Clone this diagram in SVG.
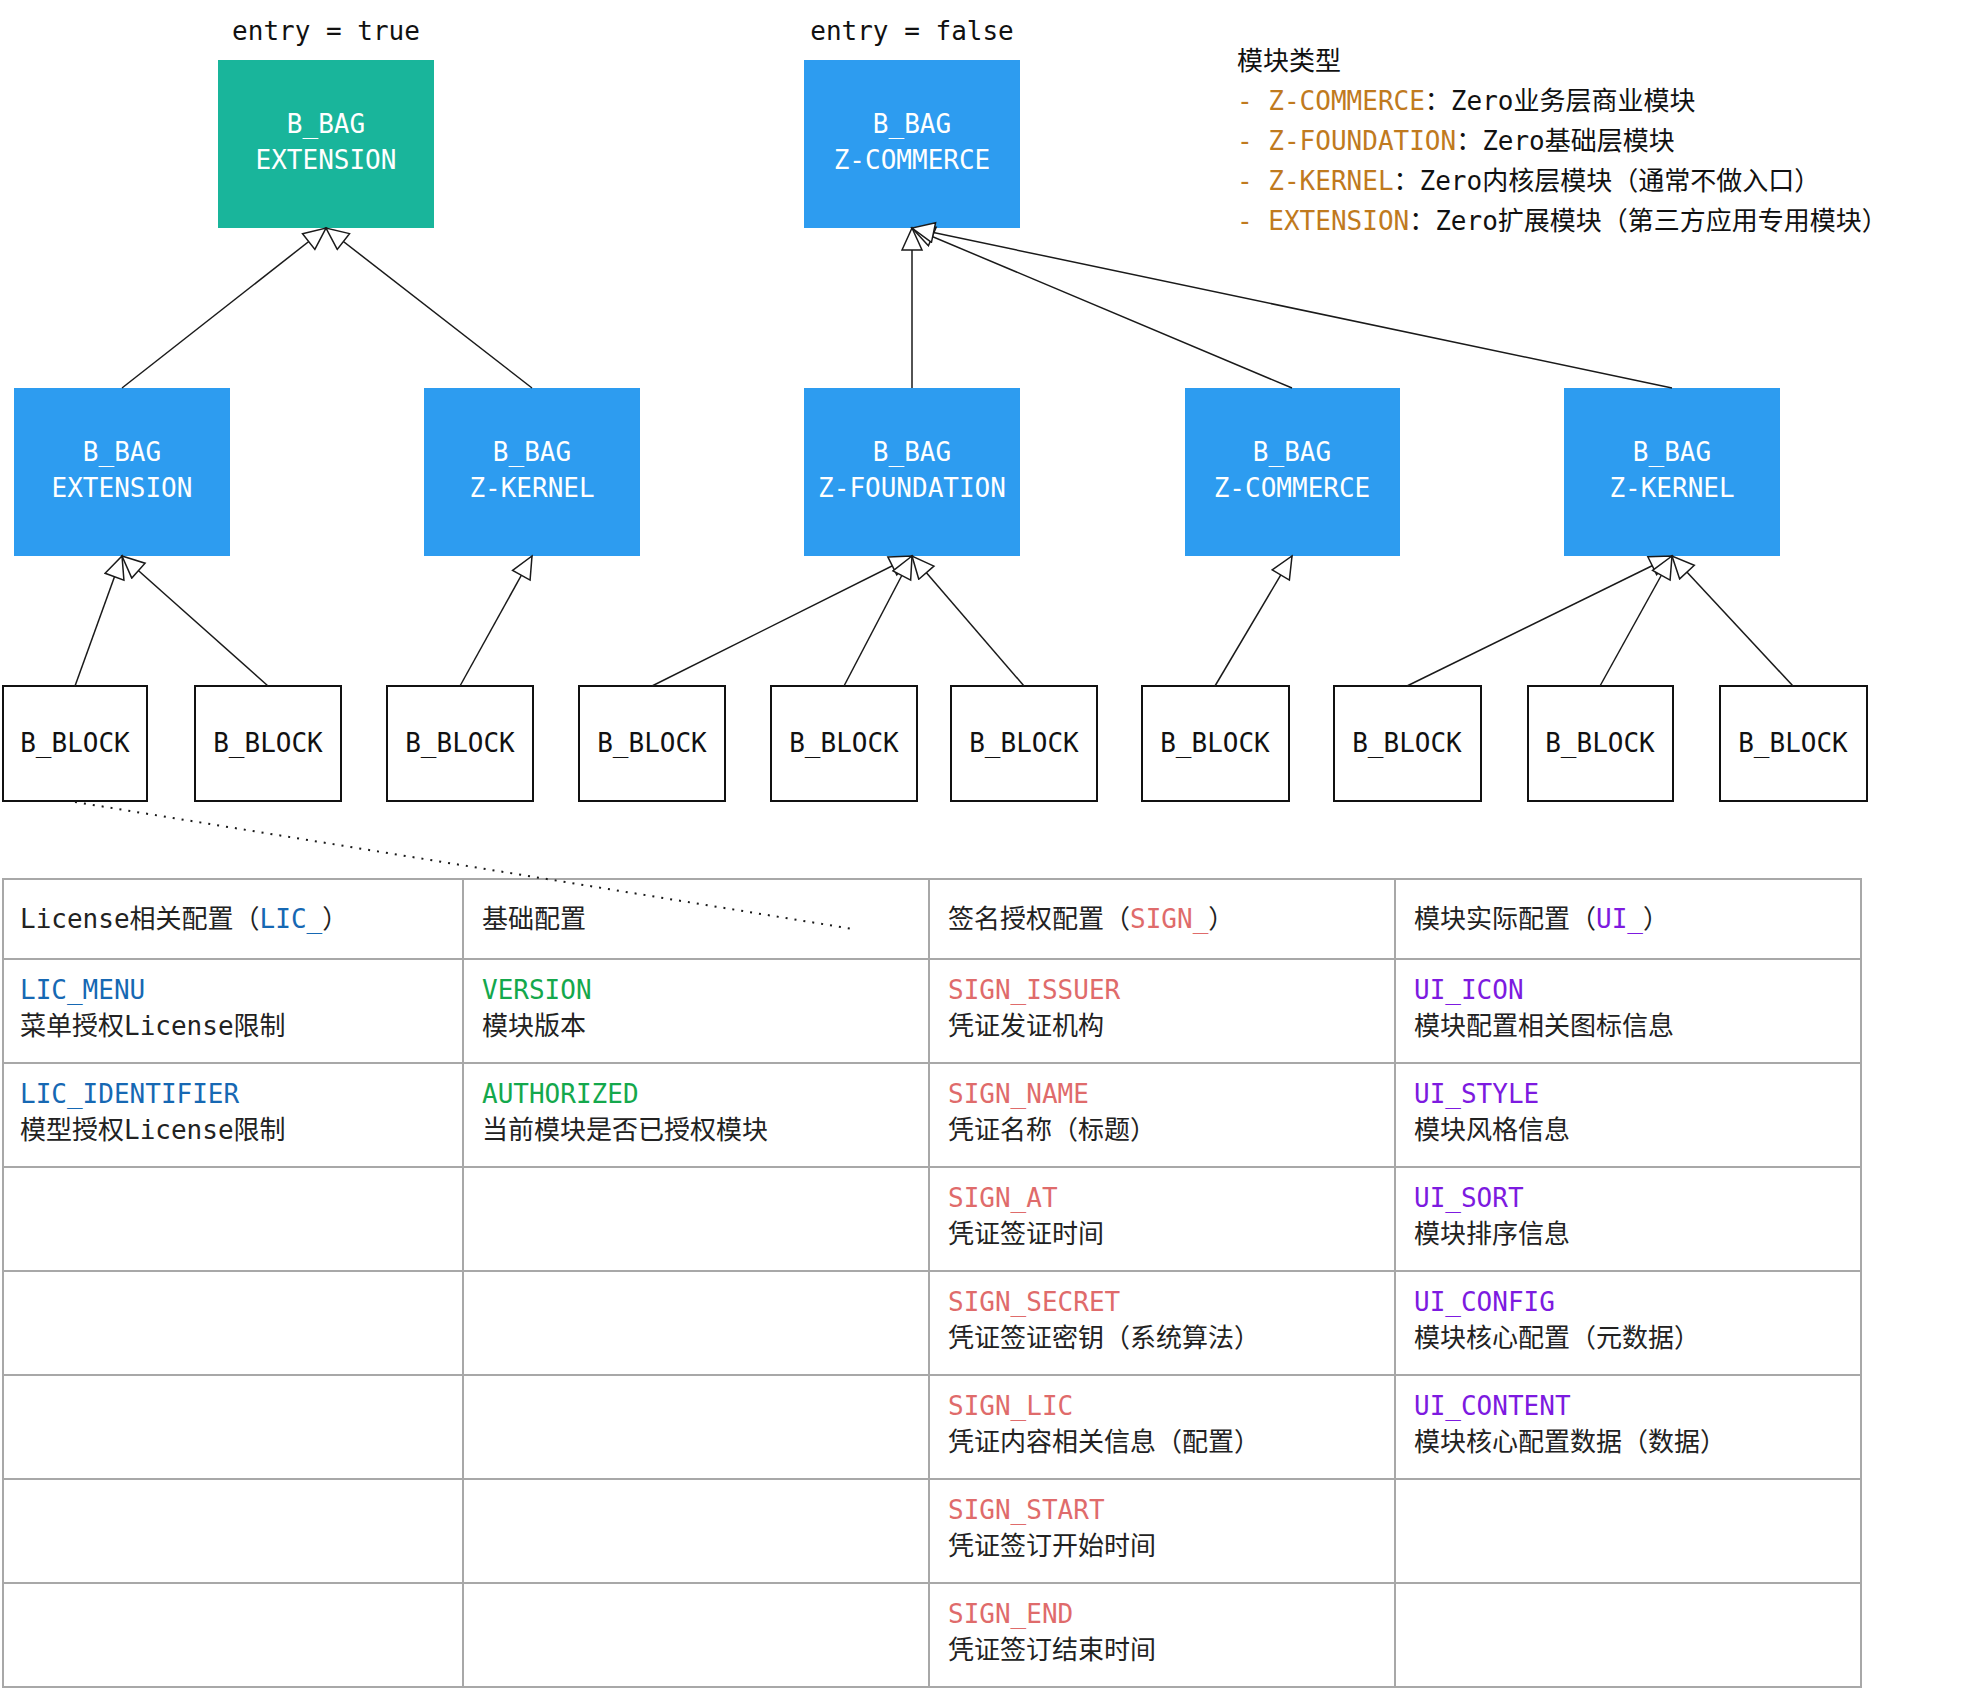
<svg xmlns="http://www.w3.org/2000/svg" width="1974" height="1690" viewBox="0 0 1974 1690">
  <style>
    text { font-family: "DejaVu Sans Mono", "Noto Sans CJK SC", monospace; }
    .bag { fill: #2d9cf0; }
    .entry { fill: #19b59b; }
    .bag-label { fill: #ffffff; font-size: 26px; text-anchor: middle; }
    .block { fill: #ffffff; stroke: #111111; stroke-width: 2; }
    .block-label { fill: #111111; font-size: 26px; text-anchor: middle; }
    .title { fill: #111111; font-size: 26px; text-anchor: middle; }
    .edge { fill: none; stroke: #1a1a1a; stroke-width: 1.5; marker-end: url(#hollow); }
    .dotted { fill: none; stroke: #1a1a1a; stroke-width: 2; stroke-dasharray: 2 7; }
    .legend { fill: #111111; font-size: 26px; }
    .kind { fill: #c07a1e; }
    .grid { fill: none; stroke: #a8a8a8; stroke-width: 2; }
    .cell { fill: #222222; font-size: 26px; }
    .lic { fill: #1668b3; }
    .base { fill: #14a84c; }
    .sign { fill: #df6b6b; }
    .ui { fill: #7d1ae0; }
  </style>
  <defs>
    <marker id="hollow" markerUnits="userSpaceOnUse" markerWidth="26" markerHeight="24" refX="24" refY="11" orient="auto">
      <path d="M2,1 L24,11 L2,21 Z" fill="#ffffff" stroke="#1a1a1a" stroke-width="1.5"/>
    </marker>
  </defs>

  <rect width="1974" height="1690" fill="#ffffff"/>

  <!-- column titles -->
  <text class="title" x="326" y="40">entry = true</text>
  <text class="title" x="912" y="40">entry = false</text>

  <!-- module type legend -->
  <g id="legend" class="legend">
    <text x="1237" y="70">模块类型</text>
    <text x="1237" y="110"><tspan class="kind">- Z-COMMERCE</tspan>：Zero业务层商业模块</text>
    <text x="1237" y="150"><tspan class="kind">- Z-FOUNDATION</tspan>：Zero基础层模块</text>
    <text x="1237" y="190"><tspan class="kind">- Z-KERNEL</tspan>：Zero内核层模块（通常不做入口）</text>
    <text x="1237" y="230"><tspan class="kind">- EXTENSION</tspan>：Zero扩展模块（第三方应用专用模块）</text>
  </g>

  <!-- entry bags -->
  <g id="bag-entry-extension">
    <rect class="entry" x="218" y="60" width="216" height="168"/>
    <text class="bag-label" x="326" y="133">B_BAG</text>
    <text class="bag-label" x="326" y="169">EXTENSION</text>
  </g>
  <g id="bag-entry-commerce">
    <rect class="bag" x="804" y="60" width="216" height="168"/>
    <text class="bag-label" x="912" y="133">B_BAG</text>
    <text class="bag-label" x="912" y="169">Z-COMMERCE</text>
  </g>

  <!-- second level bags -->
  <g id="bag-extension">
    <rect class="bag" x="14" y="388" width="216" height="168"/>
    <text class="bag-label" x="122" y="461">B_BAG</text>
    <text class="bag-label" x="122" y="497">EXTENSION</text>
  </g>
  <g id="bag-kernel-a">
    <rect class="bag" x="424" y="388" width="216" height="168"/>
    <text class="bag-label" x="532" y="461">B_BAG</text>
    <text class="bag-label" x="532" y="497">Z-KERNEL</text>
  </g>
  <g id="bag-foundation">
    <rect class="bag" x="804" y="388" width="216" height="168"/>
    <text class="bag-label" x="912" y="461">B_BAG</text>
    <text class="bag-label" x="912" y="497">Z-FOUNDATION</text>
  </g>
  <g id="bag-commerce">
    <rect class="bag" x="1185" y="388" width="215" height="168"/>
    <text class="bag-label" x="1292" y="461">B_BAG</text>
    <text class="bag-label" x="1292" y="497">Z-COMMERCE</text>
  </g>
  <g id="bag-kernel-b">
    <rect class="bag" x="1564" y="388" width="216" height="168"/>
    <text class="bag-label" x="1672" y="461">B_BAG</text>
    <text class="bag-label" x="1672" y="497">Z-KERNEL</text>
  </g>

  <!-- blocks -->
  <g id="block-1"><rect class="block" x="3" y="686" width="144" height="115"/><text class="block-label" x="75" y="752">B_BLOCK</text></g>
  <g id="block-2"><rect class="block" x="195" y="686" width="146" height="115"/><text class="block-label" x="268" y="752">B_BLOCK</text></g>
  <g id="block-3"><rect class="block" x="387" y="686" width="146" height="115"/><text class="block-label" x="460" y="752">B_BLOCK</text></g>
  <g id="block-4"><rect class="block" x="579" y="686" width="146" height="115"/><text class="block-label" x="652" y="752">B_BLOCK</text></g>
  <g id="block-5"><rect class="block" x="771" y="686" width="146" height="115"/><text class="block-label" x="844" y="752">B_BLOCK</text></g>
  <g id="block-6"><rect class="block" x="951" y="686" width="146" height="115"/><text class="block-label" x="1024" y="752">B_BLOCK</text></g>
  <g id="block-7"><rect class="block" x="1142" y="686" width="147" height="115"/><text class="block-label" x="1215" y="752">B_BLOCK</text></g>
  <g id="block-8"><rect class="block" x="1334" y="686" width="147" height="115"/><text class="block-label" x="1407" y="752">B_BLOCK</text></g>
  <g id="block-9"><rect class="block" x="1528" y="686" width="145" height="115"/><text class="block-label" x="1600" y="752">B_BLOCK</text></g>
  <g id="block-10"><rect class="block" x="1720" y="686" width="147" height="115"/><text class="block-label" x="1793" y="752">B_BLOCK</text></g>

  <!-- configuration table -->
  <g id="config-table">
    <g class="grid">
      <rect x="3" y="879" width="1858" height="808"/>
      <line x1="463" y1="879" x2="463" y2="1687"/>
      <line x1="929" y1="879" x2="929" y2="1687"/>
      <line x1="1395" y1="879" x2="1395" y2="1687"/>
      <line x1="3" y1="959" x2="1861" y2="959"/>
      <line x1="3" y1="1063" x2="1861" y2="1063"/>
      <line x1="3" y1="1167" x2="1861" y2="1167"/>
      <line x1="3" y1="1271" x2="1861" y2="1271"/>
      <line x1="3" y1="1375" x2="1861" y2="1375"/>
      <line x1="3" y1="1479" x2="1861" y2="1479"/>
      <line x1="3" y1="1583" x2="1861" y2="1583"/>
    </g>
    <g class="cell">
      <!-- header -->
      <text x="20" y="928">License相关配置（<tspan class="lic">LIC_</tspan>）</text>
      <text x="482" y="928">基础配置</text>
      <text x="948" y="928">签名授权配置（<tspan class="sign">SIGN_</tspan>）</text>
      <text x="1414" y="928">模块实际配置（<tspan class="ui">UI_</tspan>）</text>
      <!-- row 1 -->
      <text class="lic" x="20" y="999">LIC_MENU</text>
      <text x="20" y="1035">菜单授权License限制</text>
      <text class="base" x="482" y="999">VERSION</text>
      <text x="482" y="1035">模块版本</text>
      <text class="sign" x="948" y="999">SIGN_ISSUER</text>
      <text x="948" y="1035">凭证发证机构</text>
      <text class="ui" x="1414" y="999">UI_ICON</text>
      <text x="1414" y="1035">模块配置相关图标信息</text>
      <!-- row 2 -->
      <text class="lic" x="20" y="1103">LIC_IDENTIFIER</text>
      <text x="20" y="1139">模型授权License限制</text>
      <text class="base" x="482" y="1103">AUTHORIZED</text>
      <text x="482" y="1139">当前模块是否已授权模块</text>
      <text class="sign" x="948" y="1103">SIGN_NAME</text>
      <text x="948" y="1139">凭证名称（标题）</text>
      <text class="ui" x="1414" y="1103">UI_STYLE</text>
      <text x="1414" y="1139">模块风格信息</text>
      <!-- row 3 -->
      <text class="sign" x="948" y="1207">SIGN_AT</text>
      <text x="948" y="1243">凭证签证时间</text>
      <text class="ui" x="1414" y="1207">UI_SORT</text>
      <text x="1414" y="1243">模块排序信息</text>
      <!-- row 4 -->
      <text class="sign" x="948" y="1311">SIGN_SECRET</text>
      <text x="948" y="1347">凭证签证密钥（系统算法）</text>
      <text class="ui" x="1414" y="1311">UI_CONFIG</text>
      <text x="1414" y="1347">模块核心配置（元数据）</text>
      <!-- row 5 -->
      <text class="sign" x="948" y="1415">SIGN_LIC</text>
      <text x="948" y="1451">凭证内容相关信息（配置）</text>
      <text class="ui" x="1414" y="1415">UI_CONTENT</text>
      <text x="1414" y="1451">模块核心配置数据（数据）</text>
      <!-- row 6 -->
      <text class="sign" x="948" y="1519">SIGN_START</text>
      <text x="948" y="1555">凭证签订开始时间</text>
      <!-- row 7 -->
      <text class="sign" x="948" y="1623">SIGN_END</text>
      <text x="948" y="1659">凭证签订结束时间</text>
    </g>
  </g>

  <!-- inheritance connectors -->
  <g id="connectors">
    <path class="edge" d="M122,388 L326,228"/>
    <path class="edge" d="M532,388 L326,228"/>
    <path class="edge" d="M912,388 L912,228"/>
    <path class="edge" d="M1292,388 L912,228"/>
    <path class="edge" d="M1672,388 L912,228"/>
    <path class="edge" d="M75,686 L122,556"/>
    <path class="edge" d="M268,686 L122,556"/>
    <path class="edge" d="M460,686 L532,556"/>
    <path class="edge" d="M652,686 L912,556"/>
    <path class="edge" d="M844,686 L912,556"/>
    <path class="edge" d="M1024,686 L912,556"/>
    <path class="edge" d="M1215,686 L1292,556"/>
    <path class="edge" d="M1407,686 L1672,556"/>
    <path class="edge" d="M1600,686 L1672,556"/>
    <path class="edge" d="M1793,686 L1672,556"/>
    <path class="dotted" d="M75,802 L853,929"/>
  </g>
</svg>
